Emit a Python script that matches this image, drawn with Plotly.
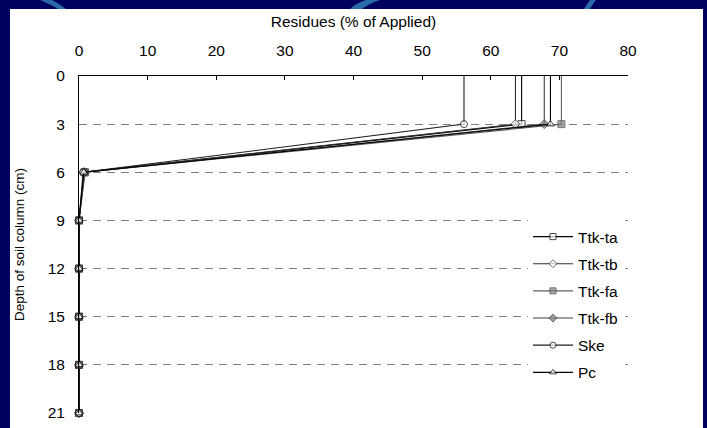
import plotly.graph_objects as go

depths = [0, 3, 6, 9, 12, 15, 18, 21]
series_names = ["Ttk-ta", "Ttk-tb", "Ttk-fa", "Ttk-fb", "Ske", "Pc"]
ttk_ta = [64.5, 64.5, 0.8, 0.0, 0.0, 0.0, 0.0, 0.0]
ttk_tb = [63.6, 63.6, 0.7, 0.0, 0.0, 0.0, 0.0, 0.0]
ttk_fa = [70.3, 70.3, 0.9, 0.0, 0.0, 0.0, 0.0, 0.0]
ttk_fb = [67.8, 67.8, 0.8, 0.0, 0.0, 0.0, 0.0, 0.0]
ske = [56.1, 56.1, 0.6, 0.0, 0.0, 0.0, 0.0, 0.0]
pc = [68.7, 68.7, 0.7, 0.0, 0.0, 0.0, 0.0, 0.0]
values = [ttk_ta, ttk_tb, ttk_fa, ttk_fb, ske, pc]

styles = [
    dict(line="#000000", sym="square", fill="white", mline="#000000"),
    dict(line="#303030", sym="diamond", fill="white", mline="#303030"),
    dict(line="#606060", sym="square", fill="#808080", mline="#404040"),
    dict(line="#404040", sym="diamond", fill="#808080", mline="#303030"),
    dict(line="#202020", sym="circle", fill="white", mline="#000000"),
    dict(line="#000000", sym="triangle-up", fill="white", mline="#000000"),
]

fig = go.Figure()
for name, vals, st in zip(series_names, values, styles):
    sizes = [0] + [7] * (len(depths) - 1)
    fig.add_trace(go.Scatter(
        x=vals, y=depths, name=name, mode="lines+markers",
        legendgroup=name,
        line=dict(color=st["line"], width=1.1),
        marker=dict(symbol=st["sym"], size=sizes, color=st["fill"],
                    line=dict(color=st["mline"], width=1)),
        cliponaxis=False,
    ))

# plot area in pixels: x 79..628, y 76..413
def px_x(p):
    return (p - 79) / 549.0

def px_y(p):
    return (413 - p) / 337.0

NAVY = "#000060"
SWOOSH = "#2a6aa8"
shapes = [
    # navy frame around the white panel
    dict(type="rect", xref="paper", yref="paper", layer="above",
         x0=px_x(0), x1=px_x(707), y0=px_y(9), y1=px_y(0),
         fillcolor=NAVY, line=dict(width=0)),
    dict(type="rect", xref="paper", yref="paper", layer="above",
         x0=px_x(0), x1=px_x(10), y0=px_y(428), y1=px_y(0),
         fillcolor=NAVY, line=dict(width=0)),
    dict(type="rect", xref="paper", yref="paper", layer="above",
         x0=px_x(703), x1=px_x(707), y0=px_y(428), y1=px_y(0),
         fillcolor=NAVY, line=dict(width=0)),
    # light swooshes on the navy strip
    dict(type="path", xref="paper", yref="paper", layer="above",
         path=f"M {px_x(40)} {px_y(0)} Q {px_x(52)} {px_y(5)} {px_x(58)} {px_y(9)} L {px_x(66)} {px_y(9)} Q {px_x(60)} {px_y(4)} {px_x(52)} {px_y(0)} Z",
         fillcolor=SWOOSH, line=dict(width=0)),
    dict(type="path", xref="paper", yref="paper", layer="above",
         path=f"M {px_x(350)} {px_y(9)} Q {px_x(356)} {px_y(3)} {px_x(366)} {px_y(0)} L {px_x(380)} {px_y(0)} Q {px_x(368)} {px_y(4)} {px_x(362)} {px_y(9)} Z",
         fillcolor=SWOOSH, line=dict(width=0)),
    dict(type="path", xref="paper", yref="paper", layer="above",
         path=f"M {px_x(584)} {px_y(9)} Q {px_x(587)} {px_y(4)} {px_x(590)} {px_y(0)} L {px_x(596)} {px_y(0)} Q {px_x(592)} {px_y(5)} {px_x(590)} {px_y(9)} Z",
         fillcolor=SWOOSH, line=dict(width=0)),
]

font_family = "Arial, Liberation Sans, sans-serif"
fig.update_layout(
    width=707, height=428,
    margin=dict(l=79, r=79, t=76, b=15, autoexpand=False),
    paper_bgcolor="white",
    plot_bgcolor="white",
    font=dict(family=font_family, size=15.5, color="#000000"),
    shapes=shapes,
    showlegend=True,
    legend=dict(
        x=px_x(528), y=px_y(220), xanchor="left", yanchor="top",
        bgcolor="white", borderwidth=0,
        font=dict(family=font_family, size=15.5, color="#000000"),
        tracegroupgap=4, itemwidth=40,
    ),
    xaxis=dict(
        side="top", range=[0, 80], dtick=10, tick0=0,
        ticks="inside", ticklen=4, tickcolor="#000000", tickwidth=1,
        showline=True, linecolor="#000000", linewidth=1,
        showgrid=False, zeroline=False,
        ticklabelstandoff=13,
        title=dict(text="Residues (% of Applied)", standoff=10,
                   font=dict(size=15.5)),
        tickfont=dict(size=15.5),
    ),
    yaxis=dict(
        range=[21, 0], tickvals=depths,
        showline=True, linecolor="#000000", linewidth=1,
        ticks="", showgrid=True, gridcolor="#808080", gridwidth=1,
        griddash="8px,6px", zeroline=False,
        ticklabelstandoff=10,
        title=dict(text="Depth of soil column (cm)", standoff=19,
                   font=dict(size=13.5)),
        tickfont=dict(size=15.5),
    ),
)

fig.write_html(
    "out.html",
    config={"displayModeBar": False},
    post_script="document.body.style.margin='0';document.body.style.padding='0';document.body.style.background='#000060';",
)
